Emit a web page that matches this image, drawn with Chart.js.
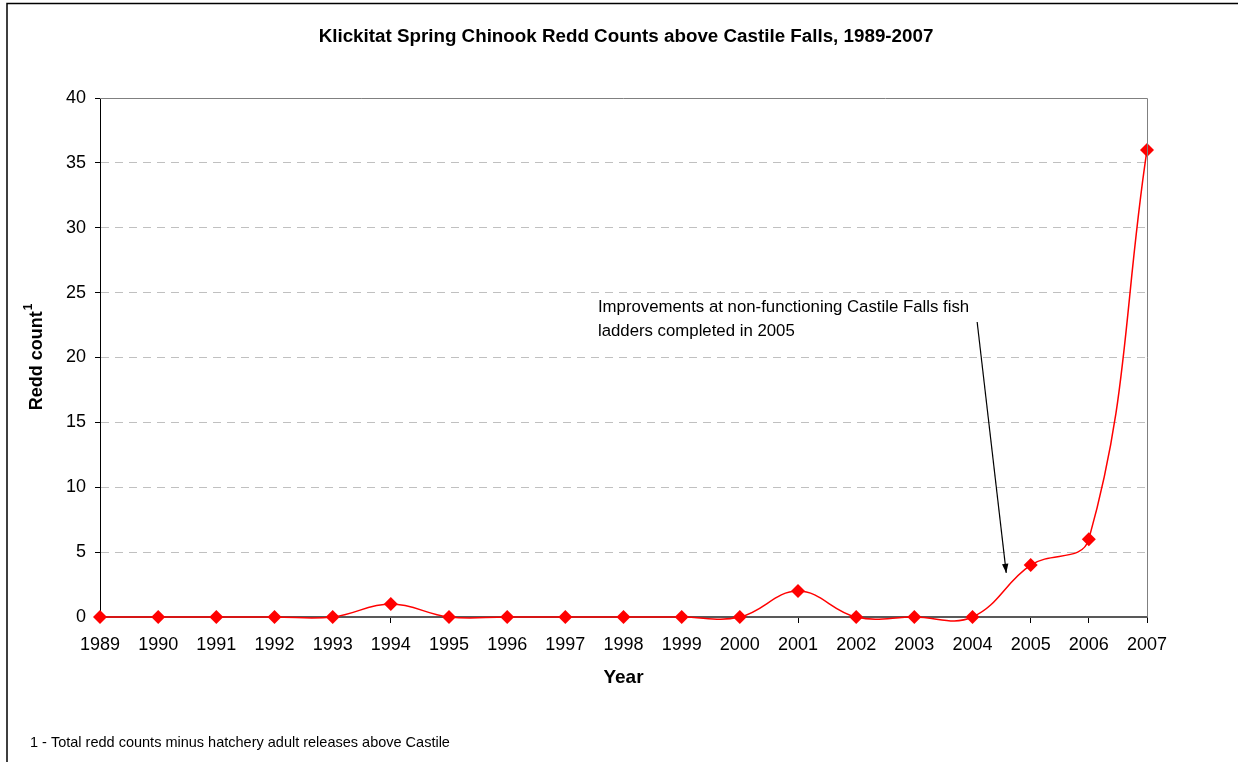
<!DOCTYPE html>
<html>
<head>
<meta charset="utf-8">
<script src="https://cdn.jsdelivr.net/npm/chart.js@4.4.1/dist/chart.umd.min.js"></script>
<style>
html,body{margin:0;padding:0;background:#fff;}
#wrap{position:relative;width:1238px;height:762px;}
</style>
</head>
<body>
<div id="wrap"><canvas id="c" width="1238" height="762"></canvas></div>
<script>
const years = ['1989','1990','1991','1992','1993','1994','1995','1996','1997','1998','1999','2000','2001','2002','2003','2004','2005','2006','2007'];
const reddCounts = [0,0,0,0,0,1,0,0,0,0,0,0,2,0,0,0,4,6,36];
const yTicks = [0,5,10,15,20,25,30,35,40];
const titleText = 'Klickitat Spring Chinook Redd Counts above Castile Falls, 1989-2007';
const yTitle = 'Redd count';
const yTitleSup = '1';
const xTitle = 'Year';
const noteLines = ['Improvements at non-functioning Castile Falls fish', 'ladders completed in 2005'];
const footnote = '1 - Total redd counts minus hatchery adult releases above Castile';

const FONT = "'Liberation Sans', Arial, sans-serif";

const decor = {
  id: 'decor',
  afterDraw(chart) {
    const ctx = chart.ctx;
    const xs = chart.scales.x, ys = chart.scales.y;
    const a = chart.chartArea;
    ctx.save();
    // outer frame
    ctx.strokeStyle = '#000';
    ctx.lineWidth = 1.5;
    ctx.beginPath();
    ctx.moveTo(7, 770); ctx.lineTo(7, 3.5); ctx.lineTo(1245, 3.5);
    ctx.stroke();
    // plot box top/right
    ctx.strokeStyle = '#808080';
    ctx.lineWidth = 1;
    ctx.beginPath();
    ctx.moveTo(a.left, a.top + 0.5); ctx.lineTo(a.right + 0.5, a.top + 0.5); ctx.lineTo(a.right + 0.5, a.bottom);
    ctx.stroke();
    // chart title
    ctx.fillStyle = '#000';
    ctx.textAlign = 'center';
    ctx.textBaseline = 'middle';
    ctx.font = 'bold 18.8px ' + FONT;
    ctx.fillText(titleText, 626, 37);
    // y axis title with superscript
    ctx.save();
    ctx.translate(37, (a.top + a.bottom) / 2);
    ctx.rotate(-Math.PI / 2);
    ctx.font = 'bold 18px ' + FONT;
    const w1 = ctx.measureText(yTitle).width;
    ctx.font = 'bold 12px ' + FONT;
    const w2 = ctx.measureText(yTitleSup).width;
    const start = -(w1 + w2) / 2;
    ctx.textAlign = 'left';
    ctx.font = 'bold 18px ' + FONT;
    ctx.fillText(yTitle, start, 0);
    ctx.font = 'bold 12px ' + FONT;
    ctx.fillText(yTitleSup, start + w1 + 1, -8);
    ctx.restore();
    // annotation text
    ctx.font = '16.8px ' + FONT;
    ctx.textBaseline = 'middle';
    ctx.textAlign = 'left';
    const tx = xs.getPixelForValue(8.56);
    ctx.fillText(noteLines[0], tx, ys.getPixelForValue(23.85));
    ctx.fillText(noteLines[1], tx, ys.getPixelForValue(21.98));
    // arrow
    const x1 = xs.getPixelForValue(15.08), y1 = ys.getPixelForValue(22.74);
    const x2 = xs.getPixelForValue(15.58), y2 = ys.getPixelForValue(3.4);
    ctx.strokeStyle = '#000';
    ctx.lineWidth = 1.2;
    ctx.beginPath(); ctx.moveTo(x1, y1); ctx.lineTo(x2, y2); ctx.stroke();
    const ang = Math.atan2(y2 - y1, x2 - x1);
    const L = 9, W = 3.2;
    ctx.beginPath();
    ctx.moveTo(x2, y2);
    ctx.lineTo(x2 - L*Math.cos(ang) + W*Math.sin(ang), y2 - L*Math.sin(ang) - W*Math.cos(ang));
    ctx.lineTo(x2 - L*Math.cos(ang) - W*Math.sin(ang), y2 - L*Math.sin(ang) + W*Math.cos(ang));
    ctx.closePath(); ctx.fill();
    // footnote
    ctx.font = '14.5px ' + FONT;
    ctx.textBaseline = 'middle';
    ctx.fillText(footnote, 30, 743);
    ctx.restore();
  }
};

new Chart(document.getElementById('c'), {
  type: 'line',
  data: {
    labels: years,
    datasets: [{
      data: reddCounts,
      borderColor: '#ff0000',
      backgroundColor: '#ff0000',
      borderWidth: 1.5,
      pointStyle: 'rectRot',
      pointRadius: 7,
      pointHoverRadius: 7,
      pointBorderWidth: 0,
      tension: 0.4,
      clip: false
    }]
  },
  options: {
    responsive: false,
    animation: false,
    events: [],
    elements: { line: { capBezierPoints: false } },
    layout: { padding: { left: 0, right: 91, top: 98, bottom: 65 } },
    plugins: {
      legend: { display: false },
      tooltip: { enabled: false },
      title: { display: false }
    },
    scales: {
      x: {
        type: 'category',
        offset: false,
        afterFit(s) { s.height = 80; },
        grid: { display: true, drawOnChartArea: false, drawTicks: true, tickLength: 6, tickColor: '#000', tickWidth: 1 },
        border: { display: true, color: '#595959', width: 2 },
        ticks: { color: '#000', font: { family: FONT, size: 18 }, padding: 11, maxRotation: 0, autoSkip: false },
        title: { display: true, text: xTitle, color: '#000', font: { family: FONT, size: 19, weight: 'bold' }, padding: { top: 0, bottom: 7.6 } }
      },
      y: {
        min: 0, max: 40,
        afterFit(s) { s.width = 100; },
        afterBuildTicks(s) { s.ticks = yTicks.map(v => ({ value: v })); },
        grid: {
          color: ctx => (ctx.tick && (ctx.tick.value === 0 || ctx.tick.value === 40)) ? 'rgba(0,0,0,0)' : '#c0c0c0',
          tickColor: '#000', tickLength: 5, tickWidth: 1, tickBorderDash: [], lineWidth: 1
        },
        border: { display: true, color: '#000', width: 1, dash: ctx => (ctx.tick ? [8, 6] : []) },
        ticks: { color: '#000', font: { family: FONT, size: 18 }, padding: 9 },
        title: { display: false }
      }
    }
  },
  plugins: [decor]
});
</script>
</body>
</html>
